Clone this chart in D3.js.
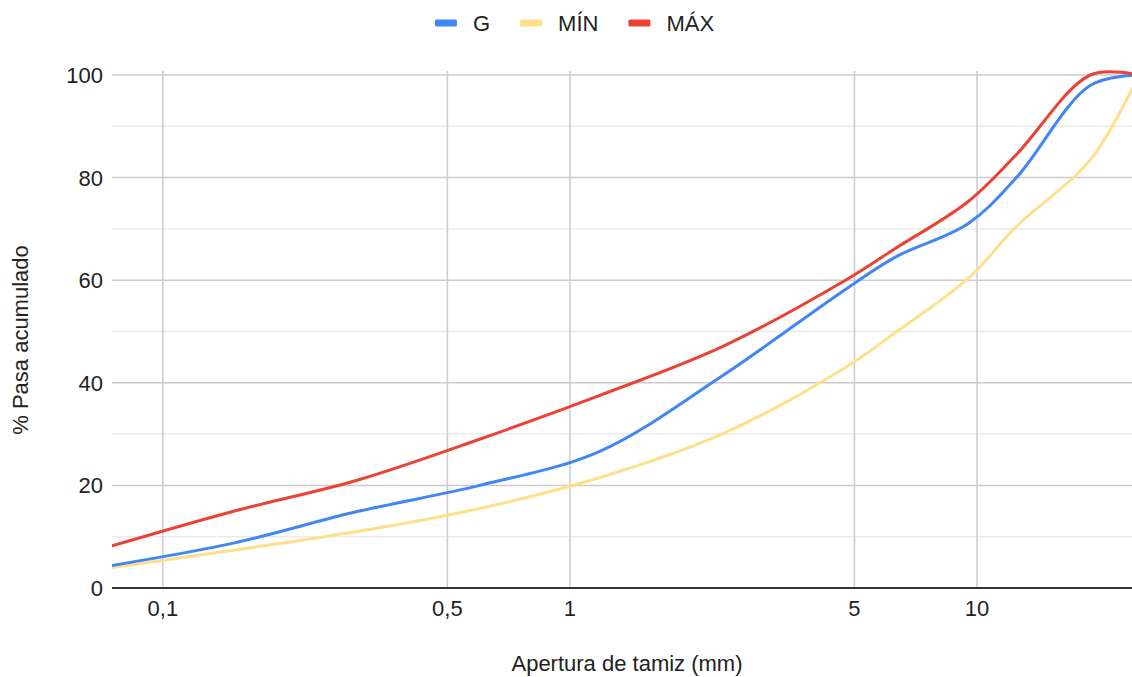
<!DOCTYPE html>
<html>
<head>
<meta charset="utf-8">
<script src="https://cdn.jsdelivr.net/npm/d3@7"></script>
<style>
  html, body { margin: 0; padding: 0; background: #fff; }
  svg { display: block; font-family: "Liberation Sans", Arial, sans-serif; }
</style>
</head>
<body>
<svg id="chart" width="1132" height="677"></svg>
<script>
// ---- data ----
const sieves = [0.075, 0.15, 0.3, 0.6, 1.18, 2.36, 4.75, 6.3, 9.5, 12.5, 19, 25];
const seriesNames = ["G", "MÍN", "MÁX"];
const gValues   = [4.4, 8.8, 14.9, 20.0, 26.6, 41.3, 58.2, 64.5, 71, 80, 98, 100];
const minValues = [4, 7.4, 11, 15.5, 21.5, 30, 43, 49.8, 60.3, 70.5, 83.5, 100];
const maxValues = [8.2, 15, 21, 29, 37.5, 47, 60, 66.2, 75.3, 84.5, 100, 100];
const xTicks = [0.1, 0.5, 1, 5, 10];
const xTickLabels = ["0,1", "0,5", "1", "5", "10"];
const yTicks = [0, 20, 40, 60, 80, 100];
const yMinorTicks = [10, 30, 50, 70, 90];
const colors = ["#4285F4", "#FFE08A", "#EA4335"];

// ---- layout ----
const svg = d3.select("#chart");
const plotLeft = 112, plotRight = 1139, plotTop = 71, plotBottom = 588;
const x = d3.scaleLog().domain([0.075, 25]).range([plotLeft, plotRight]);
const y = d3.scaleLinear().domain([0, 100]).range([plotBottom, 75]);
const FS = 22;

svg.append("defs").append("clipPath").attr("id", "clip")
  .append("rect").attr("x", plotLeft).attr("y", 40).attr("width", 1132 - plotLeft).attr("height", plotBottom - 40 + 2);

// minor horizontal grid
svg.append("g").selectAll("line").data(yMinorTicks).join("line")
  .attr("x1", plotLeft).attr("x2", 1132)
  .attr("y1", d => y(d)).attr("y2", d => y(d))
  .attr("stroke", "#ebebeb").attr("stroke-width", 1.5);

// major horizontal grid
svg.append("g").selectAll("line").data(yTicks.filter(d => d !== 0)).join("line")
  .attr("x1", plotLeft).attr("x2", 1132)
  .attr("y1", d => y(d)).attr("y2", d => y(d))
  .attr("stroke", "#cccccc").attr("stroke-width", 1.5);

// vertical grid
svg.append("g").selectAll("line").data(xTicks).join("line")
  .attr("x1", d => x(d)).attr("x2", d => x(d))
  .attr("y1", plotTop).attr("y2", plotBottom)
  .attr("stroke", "#cccccc").attr("stroke-width", 1.5);

// baseline
svg.append("line")
  .attr("x1", plotLeft).attr("x2", 1132)
  .attr("y1", y(0)).attr("y2", y(0))
  .attr("stroke", "#333333").attr("stroke-width", 2);

// y tick labels
svg.append("g").selectAll("text").data(yTicks).join("text")
  .attr("x", 103).attr("y", d => y(d)).attr("dy", "0.36em")
  .attr("text-anchor", "end").attr("font-size", FS).attr("fill", "#222")
  .text(d => d);

// x tick labels
svg.append("g").selectAll("text").data(xTicks).join("text")
  .attr("x", d => x(d)).attr("y", 616)
  .attr("text-anchor", "middle").attr("font-size", FS).attr("fill", "#222")
  .text((d, i) => xTickLabels[i]);

// axis titles
svg.append("text")
  .attr("x", 627).attr("y", 671)
  .attr("text-anchor", "middle").attr("font-size", FS).attr("fill", "#222")
  .text("Apertura de tamiz (mm)");
svg.append("text")
  .attr("transform", "translate(28,340) rotate(-90)")
  .attr("text-anchor", "middle").attr("font-size", FS).attr("fill", "#222")
  .text("% Pasa acumulado");

// lines
const allValues = [gValues, minValues, maxValues];
const line = d3.line()
  .x((d, i) => x(sieves[i]))
  .y(d => y(d))
  .curve(d3.curveCatmullRom.alpha(0.5));
const order = [1, 0, 2];
const lg = svg.append("g").attr("clip-path", "url(#clip)");
order.forEach(k => {
  lg.append("path")
    .attr("d", line(allValues[k]))
    .attr("fill", "none")
    .attr("stroke", colors[k])
    .attr("stroke-width", 3)
    .attr("stroke-linejoin", "round")
    .attr("stroke-linecap", "round");
});

// legend
const legend = svg.append("g");
let cx = 0;
seriesNames.forEach((name, i) => {
  const g = legend.append("g");
  g.append("rect").attr("x", 0).attr("y", -3.5).attr("width", 22).attr("height", 7)
    .attr("rx", 1.5).attr("fill", colors[i]);
  const t = g.append("text").attr("x", 38).attr("y", 0).attr("dy", "0.36em")
    .attr("font-size", FS).attr("fill", "#222").text(name);
  const w = 38 + t.node().getComputedTextLength();
  g.attr("transform", `translate(${cx},0)`);
  cx += w + 30;
});
const totalW = cx - 30;
legend.attr("transform", `translate(${574.5 - totalW / 2},23)`);
</script>
</body>
</html>
